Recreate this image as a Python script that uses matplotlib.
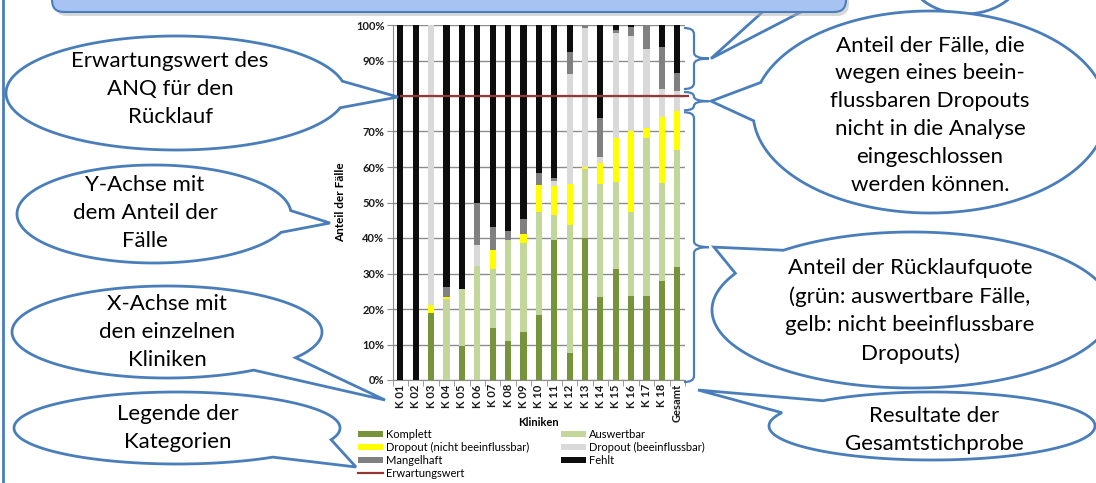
import numpy as np
import matplotlib.pyplot as plt
from matplotlib.patches import Polygon, FancyBboxPatch, Ellipse, PathPatch
from matplotlib.path import Path
from matplotlib.lines import Line2D

# Rücklauf pro Klinik, Anteile in %
kliniken = ["K 01", "K 02", "K 03", "K 04", "K 05", "K 06", "K 07", "K 08", "K 09", "K 10",
            "K 11", "K 12", "K 13", "K 14", "K 15", "K 16", "K 17", "K 18", "Gesamt"]
komplett = [0, 0, 19.0, 0, 9.6, 0, 14.6, 11.0, 13.4, 18.2, 39.4, 7.5, 39.9, 23.3, 31.2, 23.7, 23.8, 27.9, 31.7]
auswertbar = [0, 0, 0, 22.9, 16.1, 32.1, 16.6, 28.4, 25.3, 29.0, 7.1, 36.2, 19.5, 31.9, 24.7, 23.5, 44.3, 27.5, 33.1]
dropout_nicht = [0, 0, 2.0, 0.4, 0, 0, 5.4, 0, 2.4, 7.6, 8.2, 11.5, 0.5, 6.0, 12.2, 22.9, 3.0, 18.8, 10.9]
dropout_beein = [0, 0, 79.0, 0, 0, 5.8, 0, 0, 0, 0, 1.4, 30.9, 39.3, 1.5, 29.7, 26.8, 22.0, 7.9, 5.7]
mangelhaft = [0, 0, 0, 2.8, 0, 11.9, 6.4, 2.5, 4.3, 3.5, 0.8, 6.4, 0.8, 11.1, 0.8, 2.4, 6.9, 11.8, 5.0]
fehlt = [100, 100, 0, 73.9, 74.3, 50.2, 57.0, 58.1, 54.6, 41.7, 43.1, 7.5, 0, 26.2, 1.4, 0.7, 0, 6.1, 13.6]
erwartungswert = 80

kategorien = ["Komplett", "Auswertbar", "Dropout (nicht beeinflussbar)",
              "Dropout (beeinflussbar)", "Mangelhaft", "Fehlt"]
farben = ["#77933C", "#C3D69B", "#FFFF00", "#D9D9D9", "#808080", "#0D0D0D"]
ROT = "#953735"
BLAU = "#4A7EBB"
GRAU = "#8C8C8C"
FONT = ["Lato", "DejaVu Sans"]

W, H = 1096, 483
fig = plt.figure(figsize=(W / 100, H / 100), dpi=100)
fig.patch.set_facecolor("white")

# --- Balkendiagramm ---
ax = fig.add_axes([392.7 / W, (H - 380) / H, 292.3 / W, 355 / H])
x = np.arange(len(kliniken))
unten = np.zeros(len(x))
balken = []
for werte, farbe, name in zip([komplett, auswertbar, dropout_nicht, dropout_beein, mangelhaft, fehlt],
                              farben, kategorien):
    b = ax.bar(x, werte, 0.4, bottom=unten, color=farbe, label=name, zorder=3)
    balken.append(b)
    unten += np.array(werte)

ax.hlines(erwartungswert, -0.03, 18.77, color=ROT, lw=1.6, zorder=4, clip_on=False)

ax.set_xlim(-0.5, len(x) - 0.5)
ax.set_ylim(0, 100)
ax.set_yticks(np.arange(0, 101, 10))
ax.set_yticklabels([f"{v}%" for v in range(0, 101, 10)])
ax.set_xticks(x)
ax.set_xticklabels(kliniken, rotation=90)
ax.set_xticks(np.arange(-0.5, len(x)), minor=True)
ax.tick_params(axis="x", which="major", length=0, pad=3)
ax.tick_params(axis="x", which="minor", length=4, color=GRAU, direction="out")
ax.tick_params(axis="y", length=4, color=GRAU, pad=2)
for lab in ax.get_xticklabels() + ax.get_yticklabels():
    lab.set_family(FONT)
    lab.set_fontweight("bold")
    lab.set_fontsize(8)
    lab.set_color("#1a1a1a")
ax.yaxis.grid(True, color=GRAU, lw=1, zorder=0)
for s in ["top", "right"]:
    ax.spines[s].set_visible(False)
for s in ["left", "bottom"]:
    ax.spines[s].set_color(GRAU)

ax.set_xlabel("Kliniken", family=FONT, fontweight="bold", fontsize=8)
ax.xaxis.set_label_coords(0.5, -0.105)
ax.set_ylabel("Anteil der Fälle", family=FONT, fontweight="bold", fontsize=8.5)
ax.yaxis.set_label_coords(-0.16, 0.5)

# Legende
handles = [balken[0], balken[2], balken[4],
           Line2D([], [], color=ROT, lw=1.6),
           balken[1], balken[3], balken[5]]
labels = [kategorien[0], kategorien[2], kategorien[4], "Erwartungswert",
          kategorien[1], kategorien[3], kategorien[5]]
fig.legend(handles, labels, loc="upper left", bbox_to_anchor=(358 / W, (H - 429) / H),
           ncol=2, frameon=False, prop={"family": FONT, "size": 8},
           handlelength=2.25, handleheight=0.55, handletextpad=0.3,
           columnspacing=2.8, labelspacing=0.17, borderpad=0, borderaxespad=0)

# --- Sprechblasen und Klammern (Pixelkoordinaten) ---
ov = fig.add_axes([0, 0, 1, 1])
ov.set_xlim(0, W)
ov.set_ylim(H, 0)
ov.axis("off")


def ypix(v):
    return H - ax.transData.transform((0, v))[1]


def blase(cx, cy, rx, ry, a_von, a_bis, spitze, text, tx=None, ty=None, fs=16):
    t = np.radians(np.linspace(a_bis, a_von + 360, 240))
    pts = np.column_stack([cx + rx * np.cos(t), cy + ry * np.sin(t)])
    pts = np.vstack([pts, spitze])
    ov.add_patch(Polygon(pts, closed=True, fc="white", ec=BLAU, lw=2, joinstyle="miter"))
    ov.text(cx if tx is None else tx, cy if ty is None else ty, text, ha="center", va="center",
            fontsize=fs, family=FONT, linespacing=1.5, color="black")


def klammer(y0, y1, x0=684, x1=694, x2=709):
    r = min(6, (y1 - y0) / 4)
    ym = (y0 + y1) / 2
    verts = [(x0, y0), (x1, y0), (x1, y0 + r), (x1, ym - r), (x1, ym), (x2, ym),
             (x1, ym), (x1, ym + r), (x1, y1 - r), (x1, y1), (x0, y1)]
    codes = [Path.MOVETO, Path.CURVE3, Path.CURVE3, Path.LINETO, Path.CURVE3, Path.CURVE3,
             Path.CURVE3, Path.CURVE3, Path.LINETO, Path.CURVE3, Path.CURVE3]
    ov.add_patch(PathPatch(Path(verts, codes), fc="none", ec=BLAU, lw=1.6))
    return ym


# Klammern an der Gesamtstichprobe
g = len(x) - 1
stufe_gelb = komplett[g] + auswertbar[g] + dropout_nicht[g]
stufe_grau = stufe_gelb + dropout_beein[g]
m1 = klammer(ypix(100) + 3, ypix(stufe_grau) - 2)
m2 = klammer(ypix(stufe_grau) + 1, ypix(stufe_gelb) - 1)
m3 = klammer(ypix(stufe_gelb) + 1, ypix(0) + 2)

# Rahmen links
ov.plot([3, 3], [0, H], color=BLAU, lw=2)

# Blase oben rechts und Zeiger der oberen Box
ov.add_patch(Ellipse((965, -28), 114, 84, fc="white", ec=BLAU, lw=2))
ov.add_patch(Polygon([(778, -2), (711, m1), (828, -2)], closed=True, fc="white", ec=BLAU, lw=2))
ov.add_patch(FancyBboxPatch((55, -40), 794, 56, boxstyle="round,pad=0,rounding_size=12",
                            fc="#B0B0B0", ec="none", alpha=0.5))
ov.add_patch(FancyBboxPatch((52, -44), 794, 56, boxstyle="round,pad=0,rounding_size=12",
                            fc="#A6C3F2", ec=BLAU, lw=1.5))

blase(176, 93, 170, 57, -12, 15, (398, 97),
      "Erwartungswert des\nANQ für den\nRücklauf", tx=170, ty=89)
blase(154, 214, 137, 49, -4, 22, (330, 223),
      "Y-Achse mit\ndem Anteil der\nFälle", tx=145, ty=213)
blase(167, 332, 155, 46, 34, 56, (385, 400),
      "X-Achse mit\nden einzelnen\nKliniken")
blase(177, 428, 163, 36, 19, 54, (356, 467),
      "Legende der\nKategorien", tx=178)
blase(930, 112, 177, 101, 175, 197, (711, m2),
      "Anteil der Fälle, die\nwegen eines beein-\nflussbaren Dropouts\nnicht in die Analyse\neingeschlossen\nwerden können.",
      ty=115)
blase(912, 310, 200, 78, 208, 230, (714, m3),
      "Anteil der Rücklaufquote\n(grün: auswertbare Fälle,\ngelb: nicht beeinflussbare\nDropouts)",
      tx=910, ty=311)
blase(932, 426, 163, 34, 203, 228, (698, 390),
      "Resultate der\nGesamtstichprobe", tx=934, ty=430)

fig.savefig("out.png", dpi=100)
